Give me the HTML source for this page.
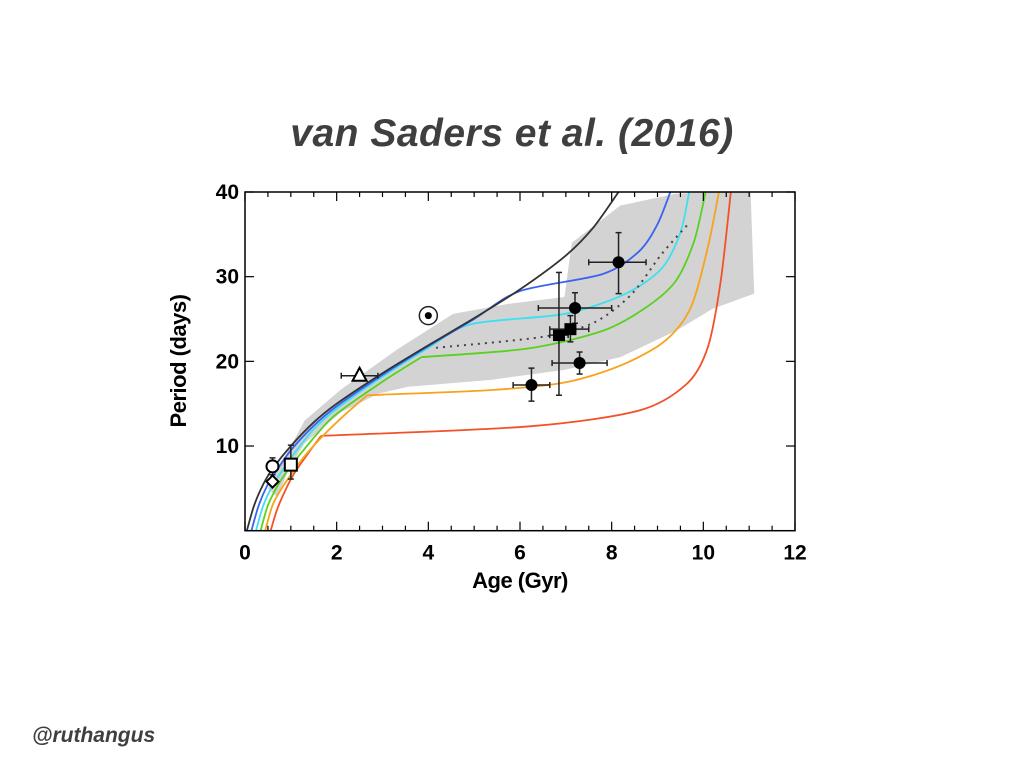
<!DOCTYPE html>
<html><head><meta charset="utf-8"><style>
body{margin:0;width:1024px;height:768px;background:#fff;overflow:hidden;font-family:"Liberation Sans",sans-serif}
#title{position:absolute;left:0;width:1024px;top:112px;text-align:center;font-size:39px;font-weight:bold;font-style:italic;color:#3f3f3f;letter-spacing:0.5px}
#handle{position:absolute;left:32px;top:724px;font-size:21px;font-weight:bold;font-style:italic;color:#3f3f3f}
</style></head><body>
<div id="title">van Saders et al. (2016)</div>
<div id="handle">@ruthangus</div>
<svg id="chart" width="1024" height="768" style="position:absolute;left:0;top:0"></svg>
<script>
const xTicks=[0,2,4,6,8,10,12];
const yTicks=[10,20,30,40];
const black=[[0.04,0],[0.2,3],[0.4,5.5],[0.6,7.3],[1,10],[1.5,12.8],[2,15],[3,18.6],[4,21.9],[5,25.1],[6,28.5],[7,32.5],[7.6,35.8],[8.15,40]];
const blue=[[0.14,0],[0.3,3],[0.5,5.5],[0.7,7.2],[1,9.5],[1.5,12.4],[2,14.7],[3,18.4],[4,21.8],[5,25],[6,28.3],[7.8,30.3],[8.6,33],[9,36.2],[9.28,40]];
const cyan=[[0.24,0],[0.4,3],[0.6,5.3],[0.8,7],[1.1,9.3],[1.5,12],[2,14.4],[3,18.2],[4,21.6],[4.94,24.4],[6.97,25.6],[8.27,27.9],[9.08,30.9],[9.5,35.2],[9.69,40]];
const dotted=[[4.17,21.6],[6.5,22.9],[7.62,24.6],[8.43,27.9],[9.08,32.6],[9.65,36.1]];
const green=[[0.34,0],[0.5,3],[0.7,5.2],[0.9,6.9],[1.2,9],[1.6,11.6],[2,13.8],[3,17.6],[3.85,20.5],[6.15,21.5],[7.8,23.6],[8.76,26.4],[9.4,29.5],[9.8,34.2],[10.05,40]];
const orange=[[0.44,0],[0.6,3],[0.8,5],[1,6.6],[1.3,8.8],[1.7,11.2],[2.2,13.8],[2.67,16],[5.35,16.6],[6.97,17.5],[8.19,19.5],[9.16,22.4],[9.73,26.4],[10.1,33.5],[10.34,40]];
const red=[[0.56,0],[0.7,2.5],[0.9,5],[1.1,7],[1.4,9.3],[1.66,11.2],[6.15,12.3],[8.6,14.2],[9.65,17.4],[10.1,21.7],[10.38,29.5],[10.6,40]];
const bandUpper=[[0.5,5],[1.3,13],[2.1,16.7],[3.32,21.4],[4.54,25.6],[5.76,26.8],[6.97,27.6],[7.13,34],[8.19,38.4],[9.4,39.8],[11.03,40.2],[11.11,28]];
const bandLower=[[10.2,26.2],[9.4,23.6],[8.19,20.5],[6.97,19],[5.35,17.8],[3.56,17],[2.92,16.2],[2.1,14],[1.3,10.3],[1,7.7],[0.7,4]];
const stars=[[6.25,17.2,0.4,0.4,1.9,2],[7.2,26.3,0.8,0.8,1.8,1.8],[7.3,19.8,0.6,0.6,1.3,1.3],[8.15,31.7,0.65,0.6,3.7,3.5]];
const squares=[[6.85,23.1,0.2,0.2,7.1,7.4],[7.1,23.8,0.45,0.4,1.5,1.6]];
const X0=245,X1=795,Y0=530.7,Y1=192;
const sx=v=>X0+(X1-X0)*v/12, sy=v=>Y0+(Y1-Y0)*v/40;
const svg=document.getElementById('chart');const NS='http://www.w3.org/2000/svg';
function mk(t,a,p){const e=document.createElementNS(NS,t);for(const k in a)e.setAttribute(k,a[k]);(p||svg).appendChild(e);return e;}
// split at sharp bends, smooth each piece
function smooth(pts){const P=pts.map(p=>[sx(p[0]),sy(p[1])]);
const pieces=[];let cur=[P[0]];
for(let i=1;i<P.length;i++){cur.push(P[i]);
if(i<P.length-1){const a1=Math.atan2(P[i][1]-P[i-1][1],P[i][0]-P[i-1][0]),a2=Math.atan2(P[i+1][1]-P[i][1],P[i+1][0]-P[i][0]);
if(a2-a1>0.45){pieces.push(cur);cur=[P[i]];}}}
pieces.push(cur);let d='';
for(const Q of pieces){d+='M'+Q[0][0]+','+Q[0][1];
for(let i=0;i<Q.length-1;i++){const p0=Q[i-1]||Q[i],p1=Q[i],p2=Q[i+1],p3=Q[i+2]||p2;
d+=' C'+(p1[0]+(p2[0]-p0[0])/7)+','+(p1[1]+(p2[1]-p0[1])/7)+' '+(p2[0]-(p3[0]-p1[0])/7)+','+(p2[1]-(p3[1]-p1[1])/7)+' '+p2[0]+','+p2[1];}}
return d;}
const clip=mk('clipPath',{id:'cp'});mk('rect',{x:X0,y:Y1,width:X1-X0,height:Y0-Y1},clip);
const g=mk('g',{'clip-path':'url(#cp)'});
const band=mk('polygon',{points:bandUpper.concat(bandLower).map(p=>sx(p[0])+','+sy(p[1])).join(' '),fill:'#d3d3d3'},g);

const series=[[red,'#f4502a','red-track'],[orange,'#f9a21b','orange-track'],[green,'#5ad11e','green-track'],[cyan,'#3ee0ee','cyan-track'],[blue,'#3b63f0','blue-track'],[black,'#333','standard-spindown']];
for(const s of series){const e=mk('path',{d:smooth(s[0]),fill:'none',stroke:s[1],'stroke-width':1.8,'stroke-linejoin':'round'},g);
}
const dl=mk('path',{d:smooth(dotted),fill:'none',stroke:'#444','stroke-width':2,'stroke-dasharray':'2,5'},g);

function err(x,y,l,r,dn,up){mk('line',{x1:sx(x-l),x2:sx(x+r),y1:sy(y),y2:sy(y),stroke:'#222','stroke-width':1.5});
mk('line',{x1:sx(x),x2:sx(x),y1:sy(y-dn),y2:sy(y+up),stroke:'#222','stroke-width':1.5});
for(const v of [x-l,x+r])mk('line',{x1:sx(v),x2:sx(v),y1:sy(y)-3,y2:sy(y)+3,stroke:'#222','stroke-width':1.5});
for(const v of [y-dn,y+up])mk('line',{x1:sx(x)-3,x2:sx(x)+3,y1:sy(v),y2:sy(v),stroke:'#222','stroke-width':1.5});}
for(const s of stars){err(...s);const c=mk('circle',{cx:sx(s[0]),cy:sy(s[1]),r:6,fill:'#000'});
}
for(const s of squares){err(...s);const c=mk('rect',{x:sx(s[0])-6,y:sy(s[1])-6,width:12,height:12,fill:'#000'});
}
err(2.5,18.3,0.4,0.4,0,0);
const tri=mk('polygon',{points:`${sx(2.5)},${sy(18.3)-8} ${sx(2.5)-7},${sy(18.3)+5} ${sx(2.5)+7},${sy(18.3)+5}`,fill:'#fff',stroke:'#000','stroke-width':2});

err(0.6,7.6,0,0,1,1);
const oc=mk('circle',{cx:sx(0.6),cy:sy(7.6),r:6,fill:'#fff',stroke:'#000','stroke-width':2});

const dm=mk('polygon',{points:`${sx(0.6)},${sy(5.8)-6} ${sx(0.6)+6},${sy(5.8)} ${sx(0.6)},${sy(5.8)+6} ${sx(0.6)-6},${sy(5.8)}`,fill:'#fff',stroke:'#000','stroke-width':2});

err(1.0,7.8,0,0,1.7,2.3);
const os=mk('rect',{x:sx(1.0)-6,y:sy(7.8)-6,width:12,height:12,fill:'#fff',stroke:'#000','stroke-width':2});

const sun=mk('g',{});
mk('circle',{cx:sx(4),cy:sy(25.4),r:9,fill:'#fff',stroke:'#222','stroke-width':1.5},sun);
mk('circle',{cx:sx(4),cy:sy(25.4),r:3.5,fill:'#000'},sun);
const fr=mk('rect',{x:X0,y:Y1,width:X1-X0,height:Y0-Y1,fill:'none',stroke:'#000','stroke-width':1.5});

for(let v=0;v<=12;v+=0.5){const L=(v%2===0)?9:5;
mk('line',{x1:sx(v),x2:sx(v),y1:Y0,y2:Y0-L,stroke:'#000','stroke-width':1.2});
mk('line',{x1:sx(v),x2:sx(v),y1:Y1,y2:Y1+L,stroke:'#000','stroke-width':1.2});}
for(const v of yTicks){mk('line',{x1:X0,x2:X0+9,y1:sy(v),y2:sy(v),stroke:'#000','stroke-width':1.2});
mk('line',{x1:X1,x2:X1-9,y1:sy(v),y2:sy(v),stroke:'#000','stroke-width':1.2});
const t=mk('text',{x:X0-6,y:sy(v)+7,'text-anchor':'end','font-size':21,'font-weight':'bold',fill:'#000'});t.textContent=v;
}
for(const v of xTicks){const t=mk('text',{x:sx(v),y:Y0+29,'text-anchor':'middle','font-size':21,'font-weight':'bold',fill:'#000'});t.textContent=v;
}
const xt=mk('text',{x:520,y:588,'text-anchor':'middle','font-size':22,'font-weight':'bold',fill:'#000','letter-spacing':'-0.5'});xt.textContent='Age (Gyr)';

const yt=mk('text',{x:0,y:0,transform:'translate(186,361) rotate(-90)','text-anchor':'middle','font-size':22,'font-weight':'bold',fill:'#000','letter-spacing':'-0.5'});yt.textContent='Period (days)';

</script>
</body></html>
